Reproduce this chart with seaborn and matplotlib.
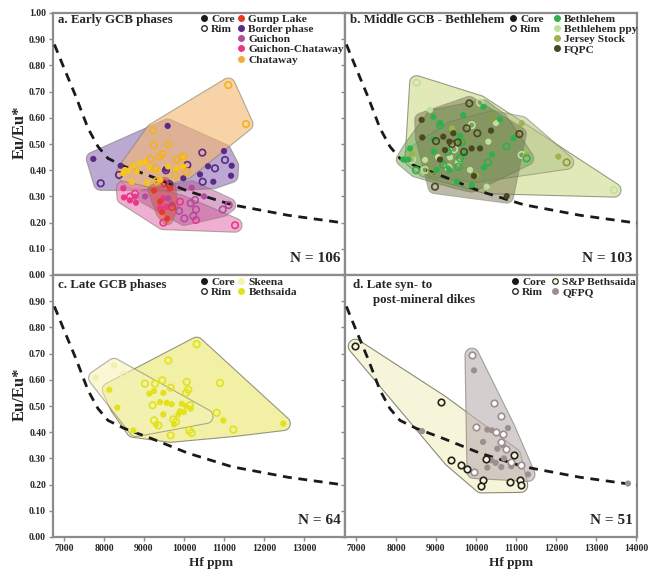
import numpy as np
import pandas as pd
import matplotlib
matplotlib.use('Agg')
import matplotlib.pyplot as plt
from matplotlib.lines import Line2D
import seaborn as sns

# ---- dashed reference curve ----
CURVE_HF = [6760, 7000, 7300, 7600, 7850, 8100, 8500, 9200, 10100, 11200, 12600, 14025]
CURVE_EU = [0.88, 0.79, 0.68, 0.56, 0.49, 0.445, 0.415, 0.375, 0.32, 0.268, 0.228, 0.198]

# ---- panel a: early GCB phases (Hf, Eu/Eu*) ----
BORDER_CORE = [(7733, 0.443), (8417, 0.417), (9592, 0.569), (11000, 0.473), (11192, 0.417),
               (11175, 0.379), (10400, 0.384), (10733, 0.356), (9983, 0.369), (9550, 0.405),
               (10600, 0.415)]
BORDER_RIM = [(7917, 0.350), (8375, 0.382), (10458, 0.467), (10775, 0.407), (11025, 0.439),
              (10083, 0.420), (9633, 0.347), (10467, 0.356), (9550, 0.40)]
CHATAWAY_CORE = [(8525, 0.401), (8608, 0.398), (8733, 0.417), (8817, 0.394), (8900, 0.426),
                 (9042, 0.432), (8692, 0.356), (9083, 0.352), (9317, 0.398), (9400, 0.363),
                 (9817, 0.407), (9967, 0.445), (9600, 0.414), (9983, 0.414), (8483, 0.388),
                 (9150, 0.41)]
CHATAWAY_RIM = [(9225, 0.551), (9250, 0.496), (9608, 0.50), (9467, 0.462), (9383, 0.452),
                (9817, 0.441), (9983, 0.452), (10067, 0.394), (9275, 0.407), (11108, 0.725),
                (11550, 0.576), (9150, 0.443), (9317, 0.359), (9775, 0.382)]
GUMP_CORE = [(9250, 0.322), (9450, 0.24), (9580, 0.215), (9650, 0.33), (9400, 0.28)]
GUMP_RIM = [(9520, 0.35), (9700, 0.26)]
GUICHON_CORE = [(9025, 0.30), (10192, 0.333), (9608, 0.293), (9700, 0.27), (10500, 0.30)]
GUICHON_RIM = [(9875, 0.245), (10008, 0.216), (10233, 0.225), (10167, 0.274), (10275, 0.286),
               (10300, 0.25), (10967, 0.25), (11117, 0.267)]
GCH_CORE = [(8483, 0.331), (8500, 0.296), (8775, 0.299), (8800, 0.276), (8650, 0.285),
            (9483, 0.293), (9400, 0.255), (9550, 0.26)]
GCH_RIM = [(8650, 0.299), (8775, 0.31), (9483, 0.20), (11275, 0.19), (9900, 0.28), (10300, 0.21)]

# ---- panel b: middle GCB - Bethlehem ----
FQPC_CORE = [(8642, 0.592), (8658, 0.525), (9183, 0.528), (9433, 0.541), (9333, 0.509),
             (9225, 0.477), (9100, 0.441), (9892, 0.483), (10100, 0.483), (10375, 0.551),
             (9950, 0.378), (10767, 0.301)]
FQPC_RIM = [(9833, 0.655), (9000, 0.511), (9767, 0.56), (10033, 0.541), (9542, 0.506),
            (11083, 0.538), (8975, 0.337), (9400, 0.50), (9700, 0.47)]
BETH_CORE = [(8183, 0.441), (8308, 0.441), (8350, 0.483), (8933, 0.604), (9683, 0.61),
             (10183, 0.642), (10933, 0.522), (8933, 0.518), (8950, 0.471), (9017, 0.401),
             (9333, 0.401), (9725, 0.464), (10200, 0.41), (10600, 0.594), (9892, 0.343),
             (9517, 0.356), (9100, 0.58), (10400, 0.46), (9600, 0.53)]
BETH_RIM = [(9100, 0.572), (9642, 0.506), (9600, 0.445), (9558, 0.413), (9183, 0.42),
            (11267, 0.445), (10767, 0.49), (10300, 0.43), (8500, 0.40), (9300, 0.47)]
PPY_CORE = [(8725, 0.439), (9350, 0.449), (10308, 0.509), (9850, 0.401), (10267, 0.337),
            (8850, 0.63), (9050, 0.45), (9550, 0.43), (10500, 0.58)]
PPY_RIM = [(8517, 0.734), (10100, 0.658), (9892, 0.572), (9308, 0.41), (8725, 0.401),
           (11142, 0.458), (13450, 0.324), (9450, 0.48), (8400, 0.44)]
JERSEY_CORE = [(11142, 0.579), (11267, 0.458), (12058, 0.452), (8400, 0.46), (9400, 0.56),
               (10000, 0.38)]
JERSEY_RIM = [(12267, 0.43), (8900, 0.40), (9700, 0.52), (10400, 0.60)]

# ---- panel c: late GCB phases ----
BETHS_CORE = [(8133, 0.562), (8333, 0.494), (8733, 0.407), (9133, 0.547), (9250, 0.557),
              (9483, 0.55), (9400, 0.515), (9567, 0.512), (9692, 0.507), (9483, 0.468),
              (9942, 0.509), (9858, 0.468), (10000, 0.477), (10167, 0.49), (9750, 0.43),
              (9300, 0.43), (10983, 0.445), (12483, 0.433), (10050, 0.50), (9900, 0.48)]
BETHS_RIM = [(9025, 0.585), (9275, 0.585), (9458, 0.598), (9608, 0.674), (10317, 0.736),
             (9667, 0.57), (10067, 0.592), (10108, 0.562), (9217, 0.503), (9250, 0.445),
             (9358, 0.426), (9733, 0.449), (9667, 0.388), (10133, 0.407), (10192, 0.397),
             (10900, 0.588), (10817, 0.474), (11233, 0.41), (10150, 0.503), (9800, 0.44),
             (10050, 0.55)]
SKEENA_CORE = [(7792, 0.607), (8250, 0.655), (8800, 0.41), (10550, 0.46)]
SKEENA_RIM = [(8500, 0.62), (9500, 0.44), (10000, 0.45)]

# ---- panel d: late syn- to post-mineral dikes ----
SP_BETHS = [(6983, 0.728), (9133, 0.515), (9367, 0.295), (9617, 0.274), (9775, 0.261),
            (10175, 0.219), (10133, 0.195), (10258, 0.299), (10942, 0.312), (10842, 0.21),
            (11092, 0.217), (11117, 0.197)]
QFPQ_CORE = [(9950, 0.636), (10175, 0.363), (10283, 0.41), (10400, 0.407), (10675, 0.35),
             (10800, 0.416), (10533, 0.337), (10383, 0.293), (10492, 0.283), (10633, 0.267),
             (10883, 0.27), (11300, 0.239), (10283, 0.265), (10700, 0.30)]
QFPQ_CORE_OUT = [(8650, 0.404), (13800, 0.204)]
QFPQ_RIM = [(9900, 0.694), (10450, 0.512), (10617, 0.461), (10008, 0.42), (10675, 0.395),
            (10617, 0.363), (10758, 0.337), (10883, 0.286), (11133, 0.274), (10500, 0.40),
            (9950, 0.25)]

X_TICKS_C = [7000, 8000, 9000, 10000, 11000, 12000, 13000]
X_TICKS_D = [7000, 8000, 9000, 10000, 11000, 12000, 13000, 14000]
Y_TICKS = [0.0, 0.1, 0.2, 0.3, 0.4, 0.5, 0.6, 0.7, 0.8, 0.9, 1.0]

sns.set_theme(style='white')
plt.rcParams['font.family'] = ['Liberation Serif', 'DejaVu Serif']
plt.rcParams['font.weight'] = 'bold'
plt.rcParams['axes.labelweight'] = 'bold'


def convex_hull(p):
    p = sorted(map(tuple, p))

    def cross(o, a, b):
        return (a[0] - o[0]) * (b[1] - o[1]) - (a[1] - o[1]) * (b[0] - o[0])
    lower, upper = [], []
    for q in p:
        while len(lower) >= 2 and cross(lower[-2], lower[-1], q) <= 0:
            lower.pop()
        lower.append(q)
    for q in reversed(p):
        while len(upper) >= 2 and cross(upper[-2], upper[-1], q) <= 0:
            upper.pop()
        upper.append(q)
    return np.array(lower[:-1] + upper[:-1])


def hull(ax, pts, fc, alpha, pad=7, ec='#7d7d6a', z=1):
    # rounded hull: convex hull of the points grown by a circle (in pixels)
    xy = ax.transData.transform(np.array(pts, dtype=float))
    a = np.linspace(0, 2 * np.pi, 36, endpoint=False)
    ring = np.column_stack([np.cos(a), np.sin(a)]) * pad
    cloud = (xy[:, None, :] + ring[None]).reshape(-1, 2)
    h = ax.transData.inverted().transform(convex_hull(cloud))
    ax.fill(h[:, 0], h[:, 1], fc=fc, ec=ec, lw=0.8, alpha=alpha, zorder=z)


def dots(ax, pts, col, rim=False, fill='none', ec=None):
    d = pd.DataFrame(pts, columns=['Hf', 'Eu'])
    if rim:
        sns.scatterplot(data=d, x='Hf', y='Eu', ax=ax, s=22, color=col, facecolor=fill,
                        edgecolor=ec or col, linewidth=1.2, zorder=5, legend=False)
    else:
        sns.scatterplot(data=d, x='Hf', y='Eu', ax=ax, s=20, color=col,
                        edgecolor='none', linewidth=0, zorder=5, legend=False)


def legends(ax, x_cr, x_gr, names, colors, y=0.997, open_first=None):
    fs = {'weight': 'bold', 'size': 8.2}
    kw = dict(loc='upper left', frameon=False, prop=fs, handlelength=0.5,
              handletextpad=0.4, labelspacing=0.02, borderpad=0, borderaxespad=0)
    cr = [Line2D([], [], ls='none', marker='o', ms=4, mfc='k', mec='k'),
          Line2D([], [], ls='none', marker='o', ms=4, mfc='white', mec='k', mew=0.9)]
    l1 = ax.legend(cr, ['Core', 'Rim'], bbox_to_anchor=(x_cr, y), **kw)
    ax.add_artist(l1)
    hs = []
    for i, c in enumerate(colors):
        if open_first is not None and i == 0:
            hs.append(Line2D([], [], ls='none', marker='o', ms=4, mfc=open_first, mec='k', mew=0.8))
        else:
            hs.append(Line2D([], [], ls='none', marker='o', ms=4, mfc=c, mec=c))
    ax.legend(hs, names, bbox_to_anchor=(x_gr, y), **kw)


fig = plt.figure(figsize=(6.61, 5.69), dpi=100)
W, H = 292 / 661, 262 / 569
axa = fig.add_axes([53 / 661, 1 - 275 / 569, W, H])
axb = fig.add_axes([345 / 661, 1 - 275 / 569, W, H])
axc = fig.add_axes([53 / 661, 1 - 537 / 569, W, H])
axd = fig.add_axes([345 / 661, 1 - 537 / 569, W, H])

for ax in (axa, axb, axc, axd):
    ax.set_xlim(6725, 14025)
    ax.set_ylim(0, 1.0)
    for s in ax.spines.values():
        s.set_color('#8c8c8c')
        s.set_linewidth(1.6)
    ax.tick_params(direction='out', length=3, width=1, color='#8c8c8c', labelsize=7,
                   bottom=True, left=True, pad=2)
    ax.set_xticks(X_TICKS_D)
    ax.set_yticks(Y_TICKS)

fig.canvas.draw()

# panel a
hull(axa, BORDER_CORE + BORDER_RIM, '#8f70b8', 0.6, z=1)
hull(axa, CHATAWAY_CORE + CHATAWAY_RIM, '#f6b66e', 0.6, z=1.1)
hull(axa, GCH_CORE + GCH_RIM, '#e77bb2', 0.6, z=1.2)
hull(axa, GUICHON_CORE + GUICHON_RIM, '#b6589a', 0.5, z=1.3)
hull(axa, GUMP_CORE + GUMP_RIM, '#d0523f', 0.5, pad=6, z=1.4)
# panel b
hull(axb, PPY_CORE + PPY_RIM, '#d9e2a2', 0.75, z=1)
hull(axb, JERSEY_CORE + JERSEY_RIM, '#b2c287', 0.55, z=1.1)
hull(axb, BETH_CORE + BETH_RIM, '#73a85c', 0.55, z=1.2)
hull(axb, FQPC_CORE + FQPC_RIM, '#6c6a44', 0.45, z=1.3)
# panel c
hull(axc, BETHS_CORE + BETHS_RIM, '#eeed8e', 0.8, z=1)
hull(axc, SKEENA_CORE + SKEENA_RIM, '#f5f2b8', 0.6, z=1.1)
# panel d
hull(axd, SP_BETHS, '#f6f4d6', 0.9, z=1)
hull(axd, QFPQ_CORE + QFPQ_RIM, '#bfb4b4', 0.65, z=1.1)

for ax in (axa, axb, axc, axd):
    sns.lineplot(x=CURVE_HF, y=CURVE_EU, ax=ax, color='k', lw=2.0,
                 linestyle=(0, (3.2, 2.4)), zorder=3)

# points a
dots(axa, BORDER_CORE, '#5a2a85')
dots(axa, BORDER_RIM, '#5a2a85', rim=True)
dots(axa, GCH_CORE, '#e8388a')
dots(axa, GCH_RIM, '#e8388a', rim=True)
dots(axa, GUICHON_CORE, '#b44c9c')
dots(axa, GUICHON_RIM, '#b44c9c', rim=True)
dots(axa, GUMP_CORE, '#e23b2c')
dots(axa, GUMP_RIM, '#e23b2c', rim=True)
dots(axa, CHATAWAY_CORE, '#f8c41a')
dots(axa, CHATAWAY_RIM, '#f3b31c', rim=True)
# points b
dots(axb, PPY_CORE, '#bfe09a')
dots(axb, PPY_RIM, '#bfe09a', rim=True)
dots(axb, JERSEY_CORE, '#9fb24c')
dots(axb, JERSEY_RIM, '#8c9c3e', rim=True)
dots(axb, BETH_CORE, '#2fb04c')
dots(axb, BETH_RIM, '#2fb04c', rim=True)
dots(axb, FQPC_CORE, '#4a4820')
dots(axb, FQPC_RIM, '#4a4820', rim=True)
# points c
dots(axc, SKEENA_CORE, '#f3efb0')
dots(axc, SKEENA_RIM, '#f3efb0', rim=True)
dots(axc, BETHS_CORE, '#e2e21c')
dots(axc, BETHS_RIM, '#e2e21c', rim=True)
# points d
dots(axd, QFPQ_CORE + QFPQ_CORE_OUT, '#9b8f8f')
dots(axd, QFPQ_RIM, '#9b8f8f', rim=True, fill='white')
dots(axd, SP_BETHS, '#fbf8d8', rim=True, fill='#fbf8d8', ec='#222222')

# legends
legends(axa, 0.507, 0.634, ['Gump Lake', 'Border phase', 'Guichon', 'Guichon-Chataway', 'Chataway'],
        ['#e23b2c', '#5a2a85', '#b44c9c', '#e8388a', '#f6a93b'])
legends(axb, 0.565, 0.716, ['Bethlehem', 'Bethlehem ppy', 'Jersey Stock', 'FQPC'],
        ['#2fb04c', '#bfe09a', '#9fb24c', '#4a4820'])
legends(axc, 0.507, 0.634, ['Skeena', 'Bethsaida'], ['#f6f2b0', '#e2e21c'], y=0.993)
legends(axd, 0.572, 0.709, ['S&P Bethsaida', 'QFPQ'], ['#fbf8d8', '#9b8f8f'], y=0.993,
        open_first='#fbf8d8')

tfs = 9.3
axa.text(0.016, 0.972, 'a. Early GCB phases', transform=axa.transAxes, va='center', ha='left', fontsize=tfs, fontweight='bold')
axb.text(0.016, 0.972, 'b. Middle GCB - Bethlehem', transform=axb.transAxes, va='center', ha='left', fontsize=tfs, fontweight='bold')
axc.text(0.016, 0.962, 'c. Late GCB phases', transform=axc.transAxes, va='center', ha='left', fontsize=tfs, fontweight='bold')
axd.text(0.027, 0.962, 'd. Late syn- to', transform=axd.transAxes, va='center', ha='left', fontsize=tfs, fontweight='bold')
axd.text(0.095, 0.905, 'post-mineral dikes', transform=axd.transAxes, va='center', ha='left', fontsize=tfs, fontweight='bold')

for ax, n in ((axa, 'N = 106'), (axb, 'N = 103'), (axc, 'N = 64'), (axd, 'N = 51')):
    ax.text(0.985, 0.04, n, transform=ax.transAxes, ha='right', va='bottom', fontsize=11, fontweight='bold')

# ticks and labels
axa.set_yticklabels([f'{v:.2f}' for v in Y_TICKS])
axc.set_yticks(Y_TICKS[:-1])
axc.set_yticklabels([f'{v:.2f}' for v in Y_TICKS[:-1]])
for ax in (axb, axd):
    ax.set_yticklabels([])
for ax in (axa, axb):
    ax.set_xticklabels([])
axc.set_xticks(X_TICKS_C)
axc.set_xticklabels([str(v) for v in X_TICKS_C])
axd.set_xticklabels([str(v) for v in X_TICKS_D])
for ax in (axa, axb, axc, axd):
    ax.set_xlabel('')
    ax.set_ylabel('')
for ax in (axa, axc):
    ax.set_ylabel('Eu/Eu*', fontsize=12, fontweight='bold')
    ax.yaxis.set_label_coords(-0.085, 0.545)
for ax, xc in ((axc, 0.54), (axd, 0.57)):
    ax.set_xlabel('Hf ppm', fontsize=9.5, fontweight='bold')
    ax.xaxis.set_label_coords(xc, -0.075)

fig.savefig('out.png', dpi=100)
